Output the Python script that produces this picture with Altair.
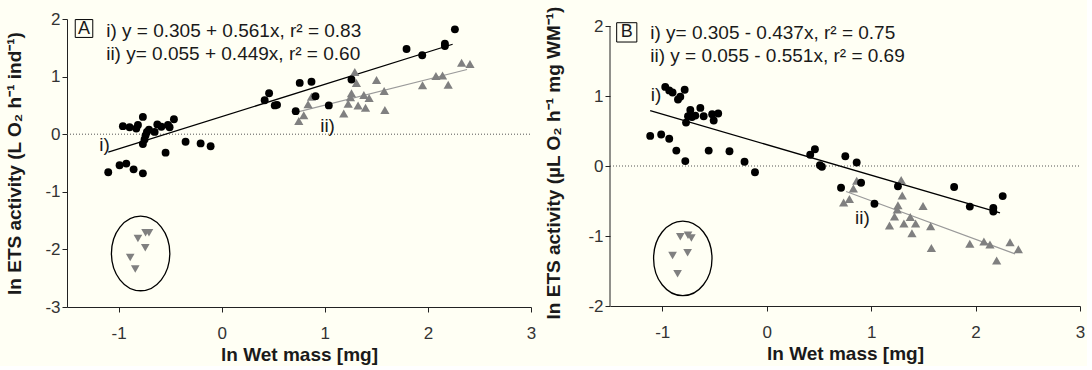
import altair as alt
import pandas as pd

# ---------------- Panel A (per individual) ----------------
a_circ_x = [-1.10, -0.99, -0.925, -0.854, -0.764, -0.958, -0.893, -0.828, -0.812, -0.764,
            -0.748, -0.764, -0.738, -0.725, -0.705, -0.65, -0.624, -0.585, -0.544, -0.521,
            -0.505, -0.463, -0.35, -0.204, -0.107, 0.417, 0.46, 0.515, 0.537, 0.718,
            0.757, 0.871, 0.91, 1.039, 1.259, 1.793, 1.945, 2.165, 2.165, 2.262]
a_circ_y = [-0.66, -0.54, -0.51, -0.61, -0.68, 0.14, 0.12, 0.10, 0.16, 0.30,
            -0.09, -0.17, -0.02, 0.04, 0.08, 0.04, 0.17, 0.13, -0.32, 0.16,
            0.12, 0.26, -0.13, -0.16, -0.21, 0.59, 0.71, 0.50, 0.51, 0.40,
            0.89, 0.91, 0.66, 0.50, 0.95, 1.48, 1.37, 1.57, 1.53, 1.82]
a_tri_x = [0.748, 0.796, 0.838, 0.871, 1.184, 1.227, 1.249, 1.259, 1.291, 1.307, 1.323, 1.379,
           1.395, 1.43, 1.502, 1.576, 1.583, 1.948, 2.078, 2.142, 2.197, 2.327, 2.408]
a_tri_y = [0.23, 0.33, 0.52, 0.65, 0.36, 0.53, 0.64, 0.71, 1.08, 0.89, 0.50, 0.68,
           0.46, 0.63, 0.94, 0.75, 0.42, 0.85, 1.01, 1.02, 0.86, 1.24, 1.22]
a_inv_x = [-0.812, -0.738, -0.705, -0.741, -0.887, -0.838]
a_inv_y = [-1.81, -1.71, -1.71, -1.97, -2.14, -2.34]

# ---------------- Panel B (mass specific) ----------------
b_circ_x = [-0.971, -0.933, -0.901, -0.849, -0.827, -0.785, -0.772, -0.753, -0.731, -0.715,
            -0.683, -0.635, -0.603, -0.522, -0.507, -0.464, -1.115, -1.01, -0.933, -0.865,
            -0.779, -0.555, -0.356, -0.212, -0.112, 0.417, 0.462, 0.51, 0.529, 0.753,
            0.712, 0.862, 0.904, 1.032, 1.257, 1.795, 1.945, 2.17, 2.17, 2.26]
b_circ_y = [1.13, 1.08, 1.05, 0.95, 0.99, 1.09, 0.62, 0.71, 0.80, 0.70,
            0.72, 0.83, 0.71, 0.74, 0.65, 0.75, 0.43, 0.45, 0.39, 0.22,
            0.07, 0.22, 0.21, 0.06, -0.09, 0.16, 0.24, 0.01, -0.01, 0.14,
            -0.31, 0.05, -0.24, -0.54, -0.29, -0.30, -0.58, -0.60, -0.65, -0.43]
b_tri_x = [0.737, 0.792, 0.83, 0.862, 1.176, 1.224, 1.25, 1.257, 1.288, 1.298, 1.314, 1.375,
           1.391, 1.426, 1.497, 1.57, 1.577, 1.945, 2.08, 2.138, 2.202, 2.33, 2.41]
b_tri_y = [-0.52, -0.47, -0.32, -0.21, -0.85, -0.72, -0.62, -0.56, -0.20, -0.42, -0.82, -0.73,
           -0.96, -0.82, -0.57, -0.86, -1.17, -1.11, -1.08, -1.12, -1.35, -1.09, -1.19]
b_inv_x = [-0.827, -0.753, -0.721, -0.901, -0.757, -0.853]
b_inv_y = [-1.01, -0.99, -1.03, -1.28, -1.24, -1.54]

# regressions: (intercept, slope, x start, x end)
a_reg = [(0.305, 0.561, -1.10, 2.24), (0.055, 0.449, 0.75, 2.38)]
b_reg = [(0.305, -0.437, -1.115, 2.234), (0.055, -0.551, 0.76, 2.378)]

a_eq = ["i) y = 0.305 + 0.561x, r\u00b2 = 0.83", "ii) y= 0.055 + 0.449x, r\u00b2 = 0.60"]
b_eq = ["i) y= 0.305 - 0.437x, r\u00b2 = 0.75", "ii) y = 0.055 - 0.551x, r\u00b2 = 0.69"]

x_ticks = [-1, 0, 1, 2, 3]
a_y_ticks = [-3, -2, -1, 0, 1, 2]
b_y_ticks = [-2, -1, 0, 1, 2]

FONT = "Liberation Sans"
BLACK = "#000000"
GRAY = "#808080"
LGRAY = "#9a9a9a"
AXC = "#222222"
ELLIPSE = "M0,-1A0.783,1,0,1,1,0,1A0.783,1,0,1,1,0,-1Z"


def panel(cx, cy, tx, ty, ix, iy, reg, eqs, letter, ydom, yticks, ytitle,
          w, h, eq_pos, box, letter_pos, lab_i, lab_ii, ell_c, ytp):
    own_domain = ydom[1] > max(yticks)
    xenc = alt.X("x:Q", scale=alt.Scale(domain=[-1.5, 3], nice=False, zero=False),
                 axis=alt.Axis(values=x_ticks, title="ln Wet mass [mg]", grid=False,
                               tickSize=5, labelPadding=13, titlePadding=4,
                               labelFontSize=17, titleFontSize=19, titleFontWeight="bold",
                               labelFont=FONT, titleFont=FONT, labelColor="#333333",
                               titleColor="#1a1a1a", domainColor=AXC, tickColor=AXC,
                               labelFlush=False, labelExpr="'' + datum.value"))
    yenc = alt.Y("y:Q", scale=alt.Scale(domain=ydom, nice=False, zero=False),
                 axis=alt.Axis(values=yticks, title=ytitle, grid=False,
                               tickSize=5, labelPadding=2, titlePadding=ytp,
                               labelFontSize=17, titleFontSize=19, titleFontWeight="bold",
                               labelFont=FONT, titleFont=FONT, labelColor="#333333",
                               titleColor="#1a1a1a", domainColor=AXC, tickColor=AXC,
                               domain=not own_domain,
                               labelFlush=False, labelExpr="'' + datum.value"))

    layers = []
    if own_domain:
        axdf = pd.DataFrame({"x": [-1.5], "y": [min(yticks)], "y2": [max(yticks)]})
        layers.append(alt.Chart(axdf).mark_rule(color=AXC, strokeWidth=1).encode(
            x=xenc, y=yenc, y2="y2:Q"))

    zero = alt.Chart(pd.DataFrame({"x": [-1.5, 3.0], "y": [0.0, 0.0]})).mark_line(
        color="#555555", strokeWidth=1, strokeDash=[1, 2]).encode(x=xenc, y=yenc)

    rows = []
    for k, (b0, b1, x0, x1) in enumerate(reg):
        rows.append({"x": x0, "y": b0 + b1 * x0, "g": k})
        rows.append({"x": x1, "y": b0 + b1 * x1, "g": k})
    regdf = pd.DataFrame(rows)
    line_i = alt.Chart(regdf[regdf.g == 0]).mark_line(color=BLACK, strokeWidth=1.3).encode(x=xenc, y=yenc)
    line_ii = alt.Chart(regdf[regdf.g == 1]).mark_line(color=LGRAY, strokeWidth=1.1).encode(x=xenc, y=yenc)

    tri = alt.Chart(pd.DataFrame({"x": tx, "y": ty})).mark_point(
        shape="triangle-up", filled=True, size=85, color=GRAY, opacity=1).encode(x=xenc, y=yenc)
    inv = alt.Chart(pd.DataFrame({"x": ix, "y": iy})).mark_point(
        shape="triangle-down", filled=True, size=75, color=GRAY, opacity=1).encode(x=xenc, y=yenc)
    circ = alt.Chart(pd.DataFrame({"x": cx, "y": cy})).mark_point(
        shape="circle", filled=True, size=62, color=BLACK, opacity=1).encode(x=xenc, y=yenc)

    ell = alt.Chart(pd.DataFrame({"x": [ell_c[0]], "y": [ell_c[1]]})).mark_point(
        shape=ELLIPSE, filled=False, size=5565, stroke=BLACK, strokeWidth=1.3, opacity=1
    ).encode(x=xenc, y=yenc)

    eqdf = pd.DataFrame({"x": [eq_pos[0], eq_pos[0]], "y": [eq_pos[1], eq_pos[2]], "t": eqs})
    eqtxt = alt.Chart(eqdf).mark_text(align="left", baseline="alphabetic", fontSize=19,
                                      font=FONT, color="#1a1a1a").encode(x=xenc, y=yenc, text="t:N")

    boxdf = pd.DataFrame({"x": [box[0]], "x2": [box[1]], "y": [box[2]], "y2": [box[3]]})
    boxm = alt.Chart(boxdf).mark_rect(fill="#fffff4", stroke=BLACK, strokeWidth=1).encode(
        x=xenc, x2="x2:Q", y=yenc, y2="y2:Q")
    letdf = pd.DataFrame({"x": [letter_pos[0]], "y": [letter_pos[1]], "t": [letter]})
    letm = alt.Chart(letdf).mark_text(align="center", baseline="middle", fontSize=18,
                                      font=FONT, color="#1a1a1a").encode(x=xenc, y=yenc, text="t:N")

    labdf = pd.DataFrame({"x": [lab_i[0], lab_ii[0]], "y": [lab_i[1], lab_ii[1]], "t": ["i)", "ii)"]})
    labm = alt.Chart(labdf).mark_text(align="center", baseline="middle", fontSize=19,
                                      font=FONT, color="#1a1a1a").encode(x=xenc, y=yenc, text="t:N")

    layers += [zero, line_i, line_ii, ell, tri, inv, circ, eqtxt, boxm, letm, labm]
    return alt.layer(*layers).properties(width=w, height=h)


panel_a = panel(a_circ_x, a_circ_y, a_tri_x, a_tri_y, a_inv_x, a_inv_y, a_reg, a_eq, "A",
                [-3, 2], a_y_ticks,
                "ln ETS activity (L O\u2082 h\u207b\u00b9 ind\u207b\u00b9)",
                464, 288, (-1.12, 1.69, 1.285), (-1.42, -1.25, 1.99, 1.68), (-1.335, 1.835),
                (-1.136, -0.196), (1.027, 0.142), (-0.786, -2.07), 20)

panel_b = panel(b_circ_x, b_circ_y, b_tri_x, b_tri_y, b_inv_x, b_inv_y, b_reg, b_eq, "B",
                [-2, 2.1], b_y_ticks,
                "ln ETS activity (\u00b5L O\u2082 h\u207b\u00b9 mg WM\u207b\u00b9)",
                470, 287, (-1.115, 1.81, 1.486), (-1.436, -1.243, 2.047, 1.771), (-1.34, 1.91),
                (-1.06, 1.02), (0.916, -0.74), (-0.803, -1.32), 24)

chart = alt.hconcat(panel_a, panel_b, spacing=8).properties(
    background="#fffff4",
    padding={"left": 5, "top": 5, "right": 2, "bottom": 2},
).configure_view(stroke=None)

chart.save("out.html", embed_options={"renderer": "svg", "actions": False})
